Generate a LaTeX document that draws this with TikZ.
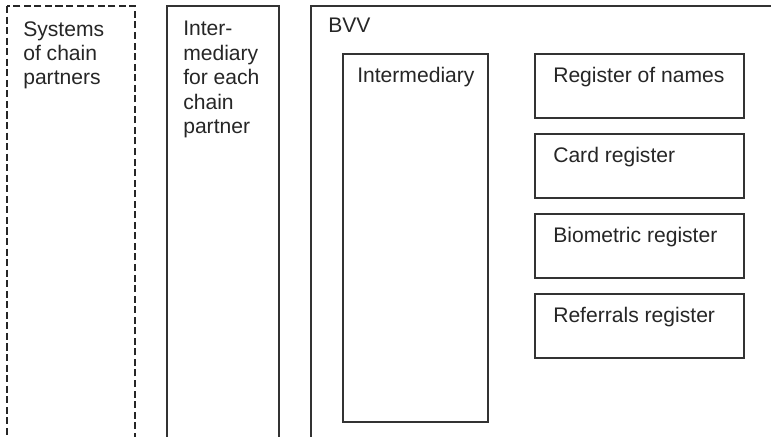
\documentclass[tikz,border=0pt]{standalone}
\usepackage{fontspec}
\setmainfont{Liberation Sans}
\begin{document}
\begin{tikzpicture}[x=0.025cm,y=-0.025cm,
	every node/.style={inner sep=0pt,anchor=north west,align=left,text=black!85,font=\fontsize{15}{17.4}\selectfont},
	box/.style={draw=black!80,line width=0.8pt},
	dashbox/.style={draw=black!85,line width=1.4pt,dash pattern=on 5pt off 2.5pt}]
	\useasboundingbox (0,0) rectangle (771,436);
	\clip (0,0) rectangle (771,436);
	% open columns
	\draw[dashbox] (7,6) rectangle (135,470);
	\draw[box] (167,6) rectangle (279,470);
	\draw[box] (311,6) rectangle (800,470);
	% inside BVV
	\draw[box] (343,54) rectangle (488,422);
	\draw[box] \foreach \y in {54,134,214,294}
	{(535,\y) rectangle (744,\y+64)};
	\node (systems) at (23,21) {Systems\\of chain\\partners};
	\node (partnerint) at (183,21) {Inter-\\mediary\\for each\\chain\\partner};
	\node (bvv) at (328,18) {BVV};
	\node (intermediary) at (357,67) {Intermediary};
	\node (names) at (553,67) {Register of names};
	\node (card) at (553,147) {Card register};
	\node (bio) at (553,227) {Biometric register};
	\node (referrals) at (553,307) {Referrals register};
\end{tikzpicture}
\end{document}
